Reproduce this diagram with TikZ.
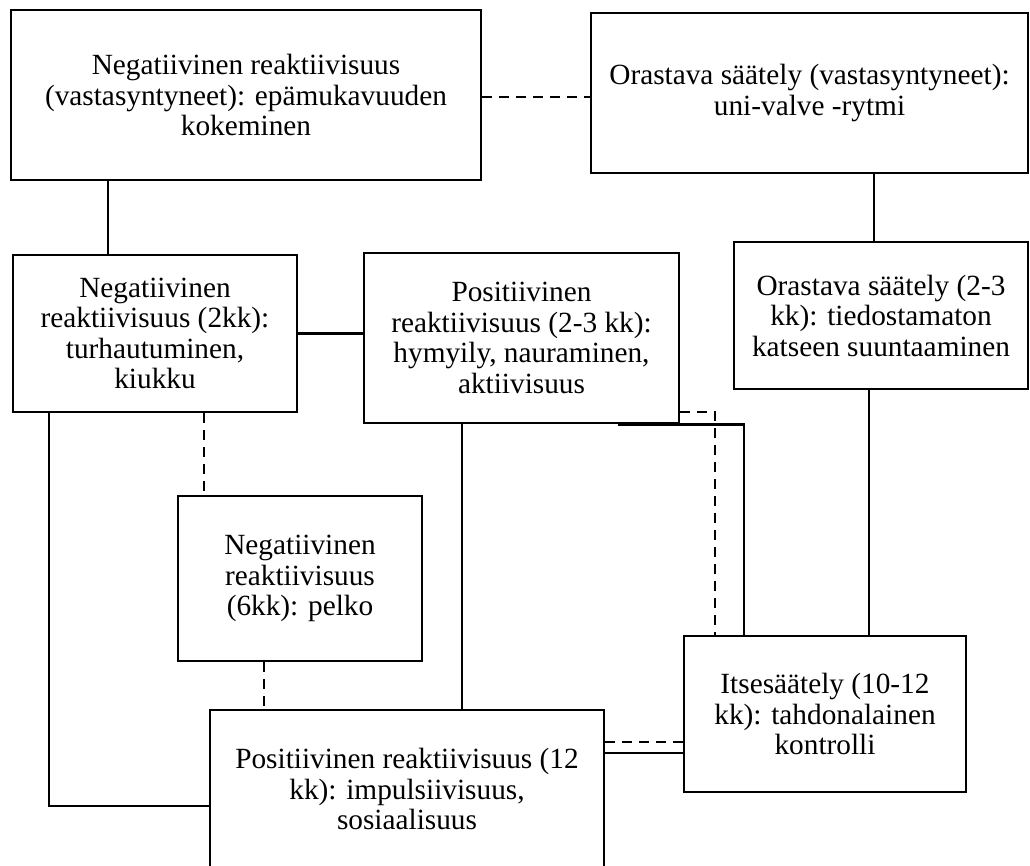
\documentclass[tikz,border=0pt]{standalone}
\usepackage{fontspec}
\setmainfont{Liberation Serif}
\begin{document}
\begin{tikzpicture}[x=1pt,y=-1pt,
  box/.style={draw=black,line width=2.6pt,fill=white,inner sep=0pt,align=center,
    font=\fontsize{29.3}{30.5}\selectfont},
  conn/.style={draw=black,line width=2.6pt},
  dsh/.style={conn,dash pattern=on 10pt off 7pt}]
\clip (0,0) rectangle (1030,865);
\fill[white] (0,0) rectangle (1030,865);
% boxes
\node[box,minimum width=470pt,minimum height=170pt] (b1) at (246,95)
  {Negatiivinen reaktiivisuus\\(vastasyntyneet): epämukavuuden\\kokeminen};
\node[box,minimum width=437pt,minimum height=160pt] (b2) at (809.5,93)
  {Orastava säätely (vastasyntyneet):\\uni-valve -rytmi};
\node[box,minimum width=284pt,minimum height=157pt] (b3) at (155,333.5)
  {Negatiivinen\\reaktiivisuus (2kk):\\turhautuminen,\\kiukku};
\node[box,minimum width=315pt,minimum height=170pt] (b4) at (521.5,338)
  {Positiivinen\\reaktiivisuus (2-3 kk):\\hymyily, nauraminen,\\aktiivisuus};
\node[box,minimum width=294pt,minimum height=147pt] (b5) at (881,315.5)
  {Orastava säätely (2-3\\kk): tiedostamaton\\katseen suuntaaminen};
\node[box,minimum width=244pt,minimum height=165pt] (b6) at (300,578.5)
  {Negatiivinen\\reaktiivisuus\\(6kk): pelko};
\node[box,minimum width=394pt,minimum height=158pt] (b7) at (407,789)
  {Positiivinen reaktiivisuus (12\\kk): impulsiivisuus,\\sosiaalisuus};
\node[box,minimum width=282pt,minimum height=156pt] (b8) at (825,714)
  {Itsesäätely (10-12\\kk): tahdonalainen\\kontrolli};
% helper coordinates
\coordinate (c12) at (0,97);
\coordinate (c13) at (108,0);
\coordinate (c25) at (874,0);
\coordinate (c36) at (204,0);
\coordinate (c37) at (49,806);
\coordinate (c67) at (264,0);
\coordinate (c47) at (462,0);
\coordinate (c58) at (869,0);
\coordinate (c48a) at (618,0);
\coordinate (c48b) at (744,0);
\coordinate (c48d) at (715,412);
\coordinate (c78d) at (0,742);
\coordinate (c78s) at (0,753);
% connectors
\draw[dsh] (b1.east |- c12) -- (b2.west |- c12);
\draw[conn] (b1.south -| c13) -- (b3.north -| c13);
\draw[conn] (b2.south -| c25) -- (b5.north -| c25);
\draw[conn] (b3.east) -- (b3.east -| b4.west);
\draw[dsh] (b3.south -| c36) -- (b6.north -| c36);
\draw[conn] (b3.south -| c37) -- (c37) -- (c37 -| b7.west);
\draw[dsh] (b6.south -| c67) -- (b7.north -| c67);
\draw[conn] (b4.south -| c47) -- (b7.north -| c47);
\draw[conn] (b5.south -| c58) -- (b8.north -| c58);
\draw[conn] (b4.south -| c48a) -- (b4.south -| c48b) -- (b8.north -| c48b);
\draw[dsh] (c48d -| b4.east) -- (c48d) -- (c48d |- b8.north);
\draw[dsh] (b7.east |- c78d) -- (b8.west |- c78d);
\draw[conn] (b7.east |- c78s) -- (b8.west |- c78s);
\end{tikzpicture}
\end{document}
